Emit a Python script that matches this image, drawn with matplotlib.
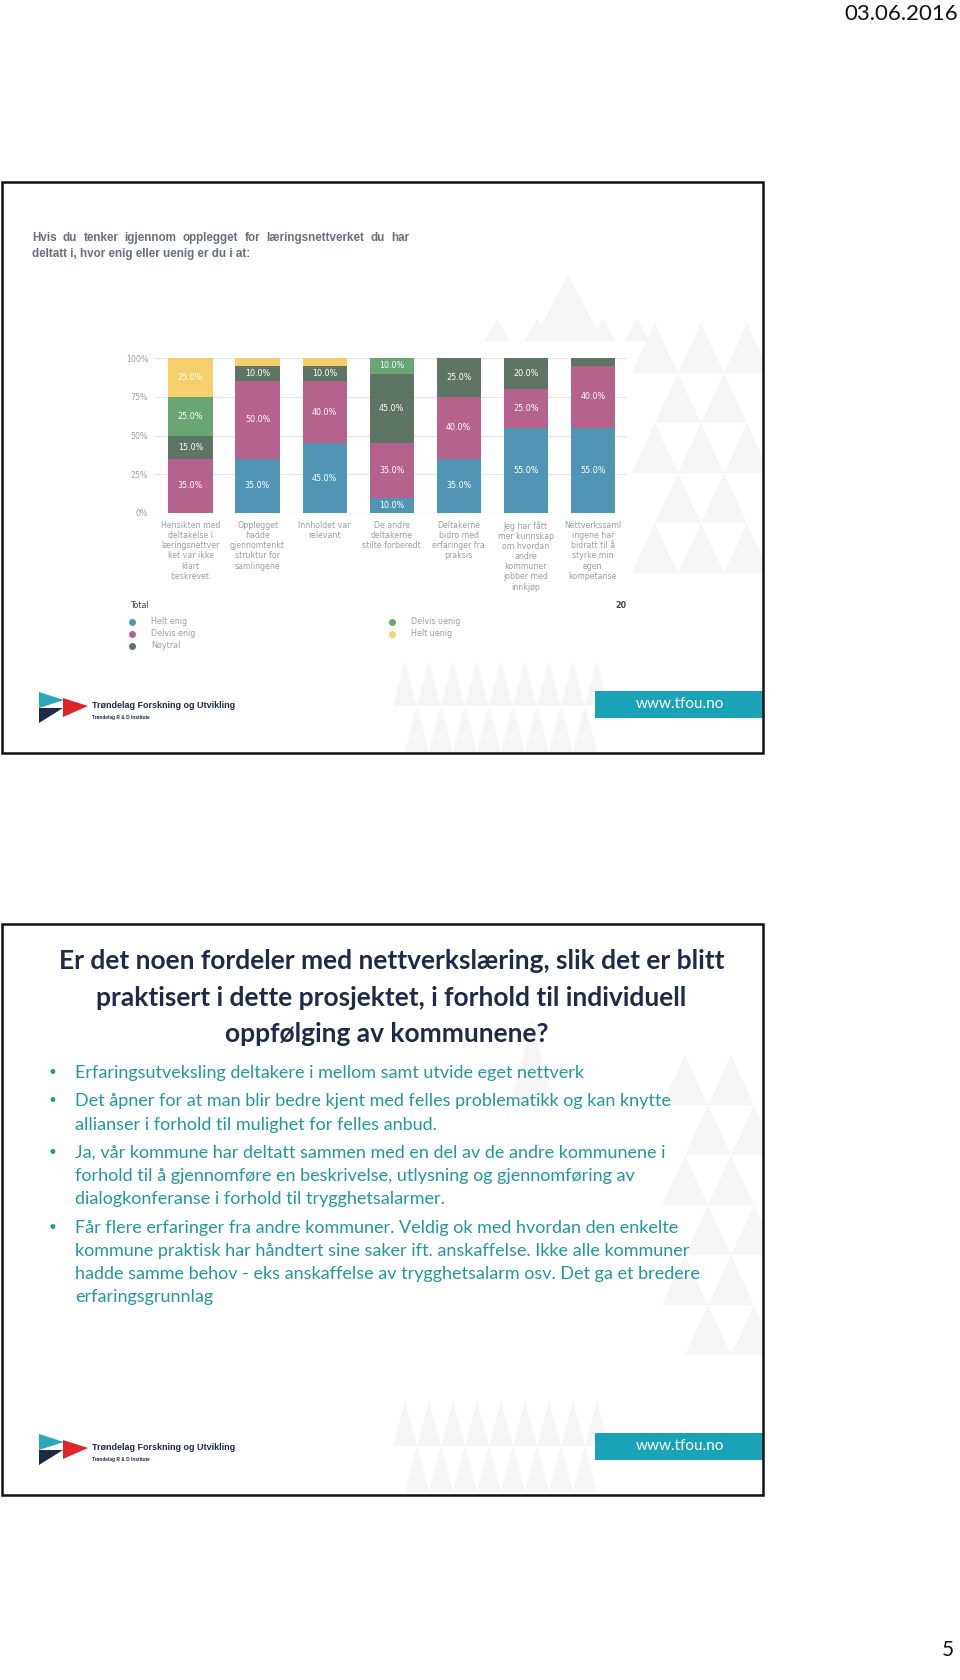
import matplotlib
matplotlib.use("Agg")
import matplotlib.pyplot as plt
from matplotlib.patches import Rectangle, Polygon

# ---- données du graphique
categories = [
    "Hensikten med\ndeltakelse i\nlæringsnettver\nket var ikke\nklart\nbeskrevet.",
    "Opplegget\nhadde\ngjennomtenkt\nstruktur for\nsamlingene",
    "Innholdet var\nrelevant",
    "De andre\ndeltakerne\nstilte forberedt",
    "Deltakerne\nbidro med\nerfaringer fra\npraksis",
    "Jeg har fått\nmer kunnskap\nom hvordan\nandre\nkommuner\njobber med\ninnkjøp",
    "Nettverkssaml\ningene har\nbidratt til å\nstyrke min\negen\nkompetanse",
]
helt_enig = [0, 35, 45, 10, 35, 55, 55]
delvis_enig = [35, 50, 40, 35, 40, 25, 40]
noytral = [15, 10, 10, 45, 25, 20, 5]
delvis_uenig = [25, 0, 0, 10, 0, 0, 0]
helt_uenig = [25, 5, 5, 0, 0, 0, 0]
series_names = ["Helt enig", "Delvis enig", "Nøytral", "Delvis uenig", "Helt uenig"]
series_colors = ["#5195b5", "#b5628c", "#5e7566", "#6aa574", "#f4cf6b"]
y_ticks = [0, 25, 50, 75, 100]
total_n = 20

question = ["Hvis du tenker igjennom opplegget for læringsnettverket du har",
            "deltatt i, hvor enig eller uenig er du i at:"]
title2 = ["Er det noen fordeler med nettverkslæring, slik det er blitt",
          "praktisert i dette prosjektet, i forhold til individuell",
          "oppfølging av kommunene?"]
bullets = [
    ["Erfaringsutveksling deltakere i mellom samt utvide eget nettverk"],
    ["Det åpner for at man blir bedre kjent med felles problematikk og kan knytte",
     "allianser i forhold til mulighet for felles anbud."],
    ["Ja, vår kommune har deltatt sammen med en del av de andre kommunene i",
     "forhold til å gjennomføre en beskrivelse, utlysning og gjennomføring av",
     "dialogkonferanse i forhold til trygghetsalarmer."],
    ["Får flere erfaringer fra andre kommuner. Veldig ok med hvordan den enkelte",
     "kommune praktisk har håndtert sine saker ift. anskaffelse. Ikke alle kommuner",
     "hadde samme behov - eks anskaffelse av trygghetsalarm osv. Det ga et bredere",
     "erfaringsgrunnlag"],
]

NAVY = "#1f2a48"
TEAL = "#1aa3b6"
TEAL_TXT = "#23979e"
TRI = "#f6f6f6"

fig = plt.figure(figsize=(9.6, 16.8), dpi=100)
bg = fig.add_axes([0, 0, 1, 1])
bg.set_xlim(0, 960)
bg.set_ylim(1680, 0)
bg.axis("off")

slides = []
for top in [182, 924]:
    r = Rectangle((2, top), 761, 571, fill=False, ec="#111111", lw=1.8, zorder=5)
    bg.add_patch(r)
    slides.append(r)


def tri(x, yb, w, h, clip):
    p = Polygon([(x - w / 2, yb), (x + w / 2, yb), (x, yb - h)],
                closed=True, color=TRI, lw=0, zorder=0)
    bg.add_patch(p)
    p.set_clip_path(clip)


def tri_field(x0, x1, y0, y1, clip, w=46, h=50):
    yb = y0 + h
    row = 0
    while yb <= y1 + 1:
        off = 0 if row % 2 == 0 else w / 2
        x = x0 + off
        while x <= x1:
            tri(x, yb, w, h, clip)
            x += w
        yb += h
        row += 1


# ---- triangles décoratifs (fond)
tri(568, 341, 70, 66, slides[0])
for xx in [497, 537, 603, 637]:
    tri(xx, 341, 26, 22, slides[0])
tri_field(655, 760, 323, 610, slides[0])
tri_field(405, 600, 660, 752, slides[0], w=24, h=46)
tri(532, 1100, 40, 80, slides[1])
tri_field(685, 760, 1055, 1390, slides[1])
tri_field(405, 600, 1400, 1494, slides[1], w=24, h=46)

bg.text(958, 14, "03.06.2016", fontsize=16, family="Lato", color="#111111",
        ha="right", va="center")
bg.text(954, 1650, "5", fontsize=15, family="Lato", color="#111111",
        ha="right", va="center")


# ---- question (ligne 1 justifiée)
fig.canvas.draw()
renderer = fig.canvas.get_renderer()
q_style = dict(fontsize=8.4, family="Liberation Sans", weight="bold", color="#66707c", va="center")
words = question[0].split()
wtexts = [bg.text(0, 238, w, ha="left", **q_style) for w in words]
widths = [t.get_window_extent(renderer).width for t in wtexts]
gap = (409 - 32 - sum(widths)) / (len(words) - 1)
x = 32
for t, w in zip(wtexts, widths):
    t.set_x(x)
    x += w + gap
bg.text(32, 254, question[1], ha="left", **q_style)


# ---- graphique empilé
ax = fig.add_axes([155 / 960, 1 - 513 / 1680, (627 - 155) / 960, (513 - 358) / 1680])
ax.set_facecolor("none")
xs = list(range(len(categories)))
ax.set_xlim(-0.53, 6.51)
ax.set_ylim(0, 100)
bottom = [0] * len(categories)
for name, vals, col in zip(series_names,
                           [helt_enig, delvis_enig, noytral, delvis_uenig, helt_uenig],
                           series_colors):
    ax.bar(xs, vals, bottom=bottom, width=0.66, color=col, zorder=3)
    for i, v in enumerate(vals):
        if v >= 10:
            ax.text(i, bottom[i] + v / 2, f"{v:.1f}%", color="white", fontsize=5.8,
                    ha="center", va="center", zorder=4)
    bottom = [b + v for b, v in zip(bottom, vals)]

ax.set_yticks(y_ticks)
ax.set_yticklabels([f"{t}%" for t in y_ticks])
ax.yaxis.grid(True, color="#e6e6e6", lw=0.9, zorder=0)
ax.set_xticks(xs)
ax.set_xticklabels(categories, fontsize=5.7, color="#8a8f95", linespacing=1.15)
ax.tick_params(axis="both", length=0, labelsize=5.7, labelcolor="#9a9fa5")
ax.tick_params(axis="x", pad=6)
ax.tick_params(axis="y", pad=5)
for s in ax.spines.values():
    s.set_visible(False)

# ---- légende
bg.text(130, 606, "Total", fontsize=5.8, color="#444444", va="center")
bg.text(627, 606, str(total_n), fontsize=5.8, color="#444444", va="center", ha="right",
        weight="bold")
leg_pos = [(132, 622), (132, 634), (132, 646), (392, 622), (392, 634)]
for (lx, ly), name, col in zip(leg_pos, series_names, series_colors):
    bg.plot(lx, ly, "o", ms=4, color=col)
    bg.text(lx + 19, ly, name, fontsize=5.8, color="#9a9fa5", va="center")


# ---- pied de page (logo + www)
def footer(y):
    bg.add_patch(Polygon([(39, y + 1), (39, y + 17), (64, y + 9)], color="#2aa6b8", lw=0))
    bg.add_patch(Polygon([(63, y + 7), (63, y + 26), (88, y + 15)], color="#e02427", lw=0))
    bg.add_patch(Polygon([(39, y + 17), (39, y + 32), (63, y + 17)], color="#1f2a48", lw=0))
    bg.text(92, y + 15, "Trøndelag Forskning og Utvikling", fontsize=6.5, family="Liberation Sans",
            weight="bold", color=NAVY, va="center")
    bg.text(92, y + 26, "Trøndelag R & D Institute", fontsize=3.4, family="Liberation Sans",
            weight="bold", color=NAVY, va="center")
    bg.add_patch(Rectangle((595, y), 168, 27, color=TEAL, lw=0))
    bg.text(680, y + 13, "www.tfou.no", fontsize=11, family="Lato", color="white",
            ha="center", va="center")


footer(691)
footer(1433)


# ---- diapositive 2 : titre + puces
title_x = [59, 96, 225]
for i, line in enumerate(title2):
    bg.text(title_x[i], 961 + i * 36.5, line, fontsize=19, family="Lato", weight="bold",
            color=NAVY, ha="left", va="center")

ly = 1073
for group in bullets:
    bg.text(52, ly, "•", fontsize=12, family="DejaVu Sans", color=TEAL_TXT, ha="center", va="center")
    for line in group:
        bg.text(75, ly, line, fontsize=13, family="Lato", color=TEAL_TXT, va="center")
        ly += 23.2
    ly += 5.2

fig.savefig("out.png", dpi=100)
